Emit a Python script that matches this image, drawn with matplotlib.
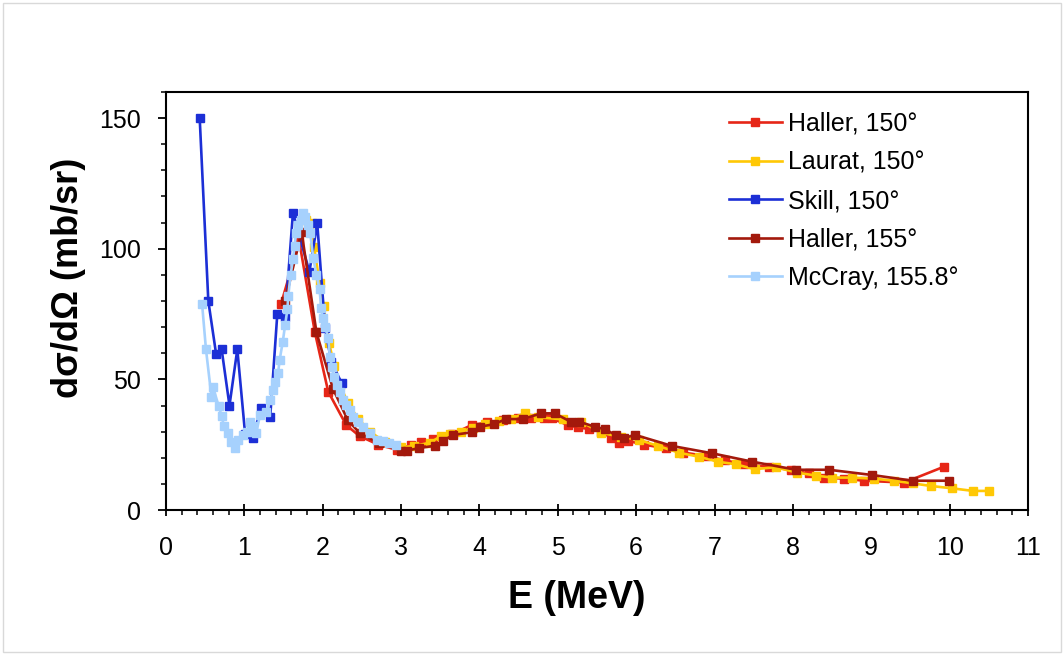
import matplotlib
matplotlib.use("Agg")
import matplotlib.pyplot as plt
from matplotlib.patches import Rectangle
from matplotlib.ticker import MultipleLocator

plt.rcParams['font.family'] = ['Liberation Sans', 'DejaVu Sans']

# Haller, 150 deg
haller150_E = [1.47, 1.70, 1.90, 2.07, 2.30, 2.47, 2.71, 2.95, 3.13, 3.25, 3.41, 3.65, 3.90,
               4.10, 4.30, 4.49, 4.66, 4.83, 4.92, 5.13, 5.26, 5.40, 5.55, 5.68, 5.78, 5.89,
               6.10, 6.38, 6.60, 6.89, 7.13, 7.38, 7.70, 7.98, 8.20, 8.40, 8.65, 8.91, 9.42, 9.93]
haller150_v = [79, 103, 68, 45.3, 32.5, 28.3, 25, 23, 24.9, 26, 27, 29, 32.5,
               33.5, 34.5, 35.1, 35.1, 35.1, 35.1, 32.5, 31.6, 31, 30, 27.7, 25.5, 26.5,
               25, 23.6, 22, 20.7, 19, 17.5, 16.5, 15.3, 14, 12.4, 12, 11.2, 10.5, 16.6]

# Laurat, 150 deg
laurat_E = [1.79, 1.86, 1.89, 1.96, 2.01, 2.08, 2.15, 2.22, 2.32, 2.45, 2.60, 2.80, 3.00,
            3.17, 3.37, 3.51, 3.62, 3.77, 3.92, 4.07, 4.25, 4.40, 4.58, 4.75, 5.06, 5.30,
            5.55, 5.80, 6.04, 6.28, 6.55, 6.80, 7.04, 7.27, 7.51, 7.78, 8.05, 8.29, 8.50,
            8.76, 9.04, 9.29, 9.53, 9.76, 10.03, 10.30, 10.50]
laurat_v = [111, 110, 100.5, 87, 78, 64, 55, 48, 41, 35, 30, 26, 24,
            24.5, 25.8, 28.3, 29, 30, 31.5, 32.8, 34, 35, 37, 35.5, 34.7, 33.8,
            29.6, 28, 26.8, 24.5, 21.9, 20.4, 18.5, 17.5, 15.6, 16.4, 14.3, 13.2, 12.4,
            12.4, 12, 11.2, 10.2, 9.2, 8.3, 7.3, 7.3]

# Skill, 150 deg
skill_E = [0.43, 0.54, 0.64, 0.71, 0.81, 0.91, 1.01, 1.11, 1.21, 1.33, 1.42, 1.52,
           1.62, 1.83, 1.93, 2.03, 2.11, 2.24]
skill_v = [150, 80, 59.6, 61.5, 40, 61.5, 29, 27.7, 39, 35.7, 74.9, 73.7,
           113.8, 91.2, 109.7, 69.8, 56.6, 48.7]

# Haller, 155 deg
haller155_E = [1.52, 1.73, 1.92, 2.13, 2.32, 2.47, 2.72, 3.00, 3.07, 3.23, 3.43, 3.54,
               3.66, 3.91, 4.01, 4.18, 4.34, 4.55, 4.79, 4.96, 5.17, 5.27, 5.47, 5.60,
               5.74, 5.85, 5.98, 6.46, 6.97, 7.48, 8.04, 8.46, 9.01, 9.53, 9.99]
haller155_v = [80, 106.5, 68, 46.5, 34.4, 29.5, 25.5, 22.7, 22.7, 23.7, 24.6, 26.5,
               28.7, 29.8, 31.9, 32.8, 34.8, 34.8, 37, 37, 33.7, 33.8, 31.9, 30.9,
               28.7, 27.5, 28.8, 24.5, 21.7, 18.5, 15.4, 15.4, 13.4, 11.2, 11.2]

# McCray, 155.8 deg
mccray_E = [0.46, 0.51, 0.58, 0.60, 0.67, 0.71, 0.74, 0.79, 0.83, 0.88, 0.92, 0.98, 1.03,
            1.07, 1.11, 1.15, 1.20, 1.28, 1.33, 1.37, 1.39, 1.43, 1.45, 1.49, 1.52, 1.55,
            1.56, 1.59, 1.62, 1.64, 1.66, 1.69, 1.72, 1.75, 1.78, 1.81, 1.84, 1.88, 1.92,
            1.96, 1.98, 2.00, 2.03, 2.07, 2.09, 2.12, 2.14, 2.18, 2.22, 2.26, 2.30, 2.35,
            2.39, 2.45, 2.52, 2.60, 2.69, 2.77, 2.85, 2.93]
mccray_v = [79, 61.5, 43.4, 47, 40, 36, 32, 29.3, 26.1, 23.6, 26.8, 28.7, 30,
            33.8, 32, 29.3, 36.4, 37.6, 42, 46, 49, 52.3, 57.4, 64.4, 70.8, 77,
            82, 90, 96, 101, 106, 109, 111, 113.8, 112, 109, 106, 96.3, 90,
            84.5, 77.2, 73.4, 70, 66, 58.7, 54.8, 51, 47.8, 45.3, 42, 40.2, 38.3,
            35.7, 33.8, 31.9, 29.3, 26.8, 26.3, 25.7, 24.9]

series = [
    ("Haller, 150°", haller150_E, haller150_v, "#E62617"),
    ("Laurat, 150°", laurat_E, laurat_v, "#FFC805"),
    ("Skill, 150°", skill_E, skill_v, "#1C2FD6"),
    ("Haller, 155°", haller155_E, haller155_v, "#A3190C"),
    ("McCray, 155.8°", mccray_E, mccray_v, "#A6D1FD"),
]

W, H = 1064, 655
fig = plt.figure(figsize=(W / 100, H / 100), dpi=100)
ax = fig.add_axes([166 / W, 1 - 510 / H, (1028 - 166) / W, (510 - 92) / H])

for label, xs, ys, col in series:
    ax.plot(xs, ys, color=col, lw=1.9, marker='s', ms=6, mec=col, mfc=col, label=label)

ax.set_xlim(0, 11)
ax.set_ylim(0, 160)
ax.xaxis.set_major_locator(MultipleLocator(1))
ax.xaxis.set_minor_locator(MultipleLocator(0.2))
ax.yaxis.set_major_locator(MultipleLocator(50))
ax.yaxis.set_minor_locator(MultipleLocator(10))
ax.tick_params(axis='x', which='major', direction='inout', length=8, width=1.3, labelsize=18, pad=15)
ax.tick_params(axis='x', which='minor', direction='out', length=3.5, width=1.1)
ax.tick_params(axis='y', which='major', direction='out', length=6, width=1.3, labelsize=18, pad=12)
ax.tick_params(axis='y', which='minor', direction='out', length=3.5, width=1.1)
for s in ax.spines.values():
    s.set_linewidth(1.5)

fig.text(577 / W, 1 - 598 / H, "E (MeV)", fontsize=27, fontweight='bold', ha='center', va='center')
fig.text(68 / W, 1 - 278 / H, "dσ/dΩ (mb/sr)", fontsize=26, fontweight='bold',
         rotation=90, ha='center', va='center')

ax.legend(loc='upper left', bbox_to_anchor=(729 / W, 1 - 112 / H), bbox_transform=fig.transFigure,
          frameon=False, fontsize=18, handlelength=2.1, handletextpad=0.25,
          labelspacing=0.58, borderpad=0, borderaxespad=0)

fig.add_artist(Rectangle((0.003, 0.004), 0.994, 0.992, transform=fig.transFigure,
                         fill=False, edgecolor='#d9d9d9', lw=1))

fig.savefig("out.png", dpi=100)
